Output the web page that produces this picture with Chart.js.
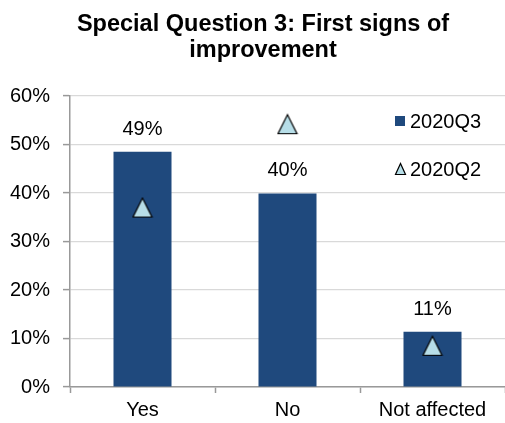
<!DOCTYPE html>
<html>
<head>
<meta charset="utf-8">
<script src="https://cdn.jsdelivr.net/npm/chart.js@4/dist/chart.umd.min.js"></script>
<style>
  html, body { margin: 0; padding: 0; background: #ffffff; }
  #wrap { width: 505px; height: 423px; }
</style>
</head>
<body>
<div id="wrap"><canvas id="chart" width="505" height="423"></canvas></div>
<script>
// Valeurs (en %)
const categories = ['Yes', 'No', 'Not affected'];
const q3Values = [48.5, 39.9, 11.4];
const q2Values = [37, 54.2, 8.5];
const seriesNames = ['2020Q3', '2020Q2'];
const titleLines = ['Special Question 3: First signs of', 'improvement'];

const FONT = "'Liberation Sans', Arial, sans-serif";
const barColor = '#1F497D';
const triFill = '#B7DEE8';

// Marqueur triangle centré sur sa boîte (comme Excel)
function makeTriangle(w, h) {
    const c = document.createElement('canvas');
    c.width = w + 3;
    c.height = h + 3;
    const g = c.getContext('2d');
    g.beginPath();
    g.moveTo(c.width / 2, 1.5);
    g.lineTo(1.5, h + 1.5);
    g.lineTo(w + 1.5, h + 1.5);
    g.closePath();
    g.fillStyle = triFill;
    g.fill();
    g.lineWidth = 1.2;
    g.strokeStyle = '#000000';
    g.stroke();
    return c;
}
const bigTriangle = makeTriangle(19, 19);
const smallTriangle = makeTriangle(10, 11);

// Titre, étiquettes de valeurs et légende dans la zone du graphique
const decorPlugin = {
    id: 'decor',
    afterDatasetsDraw(chart) {
        const ctx = chart.ctx;
        const area = chart.chartArea;
        ctx.save();

        // titre
        ctx.fillStyle = '#000000';
        ctx.font = 'bold 23.5px ' + FONT;
        ctx.textAlign = 'center';
        ctx.textBaseline = 'alphabetic';
        ctx.fillText(titleLines[0], 263, 31);
        ctx.fillText(titleLines[1], 263, 57);

        // étiquettes des barres (dataset 1 = barres)
        ctx.font = '20px ' + FONT;
        const meta = chart.getDatasetMeta(1);
        meta.data.forEach((bar, i) => {
            ctx.fillText(Math.round(q3Values[i]) + '%', bar.x, bar.y - 17);
        });

        // légende
        ctx.textAlign = 'left';
        ctx.textBaseline = 'middle';
        const lx = area.right - 110;
        const row1 = area.top + 25;
        const row2 = area.top + 73;
        ctx.fillStyle = barColor;
        ctx.fillRect(lx, row1 - 5, 10, 10);
        ctx.drawImage(smallTriangle, lx - 1, row2 - smallTriangle.height / 2);
        ctx.fillStyle = '#000000';
        ctx.fillText(seriesNames[0], lx + 15, row1 + 1);
        ctx.fillText(seriesNames[1], lx + 15, row2 + 1);
        ctx.restore();
    }
};

new Chart(document.getElementById('chart'), {
    data: {
        labels: categories,
        datasets: [
            {
                type: 'line',
                label: seriesNames[1],
                data: q2Values,
                showLine: false,
                pointStyle: bigTriangle,
                pointRadius: 10,
                order: 0
            },
            {
                type: 'bar',
                label: seriesNames[0],
                data: q3Values,
                backgroundColor: barColor,
                borderWidth: 0,
                categoryPercentage: 1,
                barPercentage: 0.4,
                order: 1
            }
        ]
    },
    options: {
        responsive: false,
        animation: false,
        layout: { autoPadding: false, padding: { top: 96, left: 0, right: 0, bottom: 0 } },
        plugins: {
            legend: { display: false },
            title: { display: false },
            tooltip: { enabled: false }
        },
        scales: {
            x: {
                type: 'category',
                offset: true,
                afterFit: scale => {
                    scale.height = 36;
                    scale.paddingLeft = 0;
                    scale.paddingRight = 0;
                },
                grid: {
                    offset: true,
                    drawOnChartArea: false,
                    tickLength: 6,
                    tickColor: '#999999',
                    tickWidth: 1.5
                },
                border: { color: '#999999', width: 1.5 },
                ticks: {
                    color: '#000000',
                    padding: 5,
                    maxRotation: 0,
                    font: { family: FONT, size: 20 }
                }
            },
            y: {
                min: 0,
                max: 60,
                afterFit: scale => { scale.width = 70; },
                grid: {
                    color: '#D9D9D9',
                    lineWidth: 1.2,
                    tickLength: 7,
                    tickColor: '#999999',
                    tickWidth: 1.5
                },
                border: { color: '#999999', width: 1.5 },
                ticks: {
                    stepSize: 10,
                    color: '#000000',
                    padding: 13,
                    font: { family: FONT, size: 20 },
                    callback: value => value + '%'
                }
            }
        }
    },
    plugins: [decorPlugin]
});
</script>
</body>
</html>
